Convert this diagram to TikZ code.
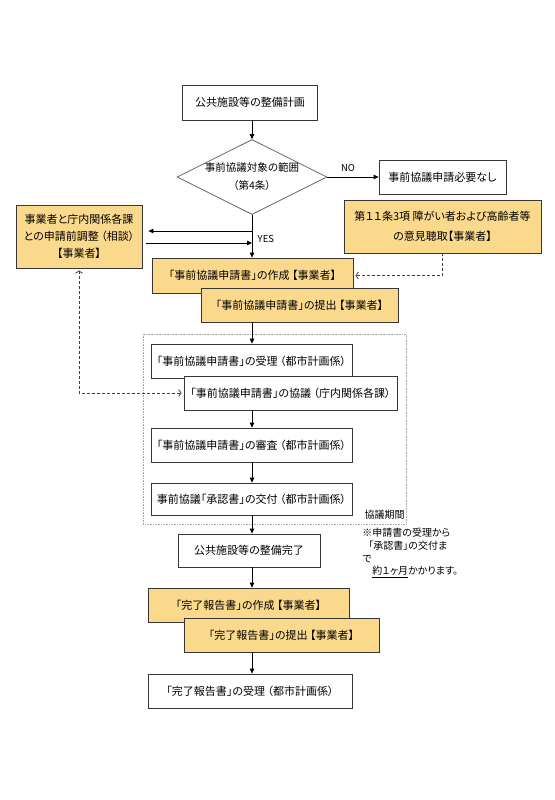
\documentclass[tikz,border=0pt]{standalone}
\usepackage{fontspec}
\setmainfont{Noto Sans CJK JP}[RawFeature=+palt]
\usepackage{tikz}
\usetikzlibrary{arrows.meta, shapes.geometric}

\definecolor{jigyoufill}{RGB}{250,217,140}
\definecolor{boxline}{RGB}{55,55,55}

\begin{document}
\begin{tikzpicture}[x=1pt, y=-1pt, line width=0.8pt,
    font=\fontsize{11}{14}\selectfont,
    box/.style={draw=boxline, fill=white, inner sep=0pt, align=center, minimum height=34pt},
    jbox/.style={box, fill=jigyoufill},
    flow/.style={-{Triangle[length=5pt, width=4.5pt]}},
    barb/.tip={Straight Barb[length=2.5pt, width=7pt]},
    memo/.style={densely dashed, draw=black!75}]
    \useasboundingbox (0, 0) rectangle (554, 800);

    % draw dotted consultation period frame
    \draw[densely dotted, draw=black!35, line width=0.6pt] (143, 334) rectangle (406, 524);

    % draw top part
    \node[box, minimum width=135pt, minimum height=35pt] (plan) at (250, 102.5) {公共施設等の整備計画};
    \node[diamond, draw=black!60, fill=white, inner sep=0pt, aspect=2, minimum width=150pt, minimum height=73pt,
        align=center, font=\fontsize{10.5}{18}\selectfont] (hani) at (252, 177) {事前協議対象の範囲\\（第4条）};
    \node[box, minimum width=127pt] (fuyou) at (442.5, 177) {事前協議申請必要なし};
    \node[jbox, minimum width=197pt, minimum height=53pt, font=\fontsize{11}{20}\selectfont] (iken) at (442.5, 226.5)
        {第１１条3項 障がい者および高齢者等\\の意見聴取【事業者】};
    \node[jbox, minimum width=126pt, minimum height=63pt, font=\fontsize{11}{17}\selectfont] (soudan) at (79, 236.5)
        {事業者と庁内関係各課\\との申請前調整 （相談）\\【事業者】};
    \node[jbox, minimum width=201pt, minimum height=35pt] (sakusei) at (252.5, 275.5) {「事前協議申請書」の作成 【事業者】};
    \node[jbox, minimum width=197pt] (teishutsu) at (299.5, 305) {「事前協議申請書」の提出 【事業者】};

    % draw consultation boxes
    \node[box, minimum width=201pt] (juri) at (251.5, 361) {「事前協議申請書」の受理 （都市計画係）};
    \node[box, minimum width=213pt] (kyougi) at (290.5, 393) {「事前協議申請書」の協議 （庁内関係各課）};
    \node[box, minimum width=201pt] (shinsa) at (251.5, 445) {「事前協議申請書」の審査 （都市計画係）};
    \node[box, minimum width=201pt, minimum height=32pt] (koufu) at (251.5, 499) {事前協議「承認書」の交付 （都市計画係）};
    \node[anchor=west, font=\fontsize{10}{12}\selectfont] (kikan) at (361, 515) {協議期間};

    % draw completion part
    \node[box, minimum width=142pt, minimum height=33pt] (kansei) at (249, 550.5) {公共施設等の整備完了};
    \node[jbox, minimum width=201pt] (hsakusei) at (248.5, 605) {「完了報告書」の作成 【事業者】};
    \node[jbox, minimum width=195pt] (hteishutsu) at (281.5, 635) {「完了報告書」の提出 【事業者】};
    \node[box, minimum width=204pt] (hjuri) at (250, 691) {「完了報告書」の受理 （都市計画係）};

    % draw note
    \node[anchor=north west, align=left, inner sep=0pt, font=\fontsize{10}{12.7}\selectfont] (chuui) at (362, 528)
        {※申請書の受理から\\\hspace{0.6em}「承認書」の交付ま\\で\\　\underline{約１ヶ月}かかります。};

    % draw labels
    \node[font=\fontsize{9.5}{11}\selectfont] (nolabel) at (348, 168) {NO};
    \node[anchor=west, font=\fontsize{9.5}{11}\selectfont] (yeslabel) at (254, 239) {YES};

    % draw flow arrows
    \coordinate (axis) at (252, 0);
    \draw[flow] (plan.south -| axis) -- (hani.north);
    \draw[flow] (hani.east) -- (fuyou.west);
    \draw[flow] (hani.south) -- (sakusei.north -| axis);
    \coordinate (askL) at ([yshift=5.5pt]soudan.east);
    \coordinate (askR) at ([yshift=-6.5pt]soudan.east);
    \draw[flow] (askL -| axis) -- ([xshift=6pt]askL);
    \draw[flow] ([xshift=4pt]askR) -- (askR -| axis);
    \draw[flow] (teishutsu.south -| axis) -- (juri.north -| axis);
    \draw[flow] (kyougi.south -| axis) -- (shinsa.north -| axis);
    \draw[flow] (shinsa.south -| axis) -- (koufu.north -| axis);
    \draw[flow] (koufu.south -| axis) -- (kansei.north -| axis);
    \draw[flow] (kansei.south -| axis) -- (hsakusei.north -| axis);
    \draw[flow] (hteishutsu.south -| axis) -- (hjuri.north -| axis);

    % draw dashed links
    \draw[memo, -barb] (iken.south) |- ([xshift=2pt]sakusei.east);
    \draw[memo, barb-barb, shorten <=2pt] (soudan.south) |- ([xshift=-2pt]kyougi.west);

\end{tikzpicture}
\end{document}
